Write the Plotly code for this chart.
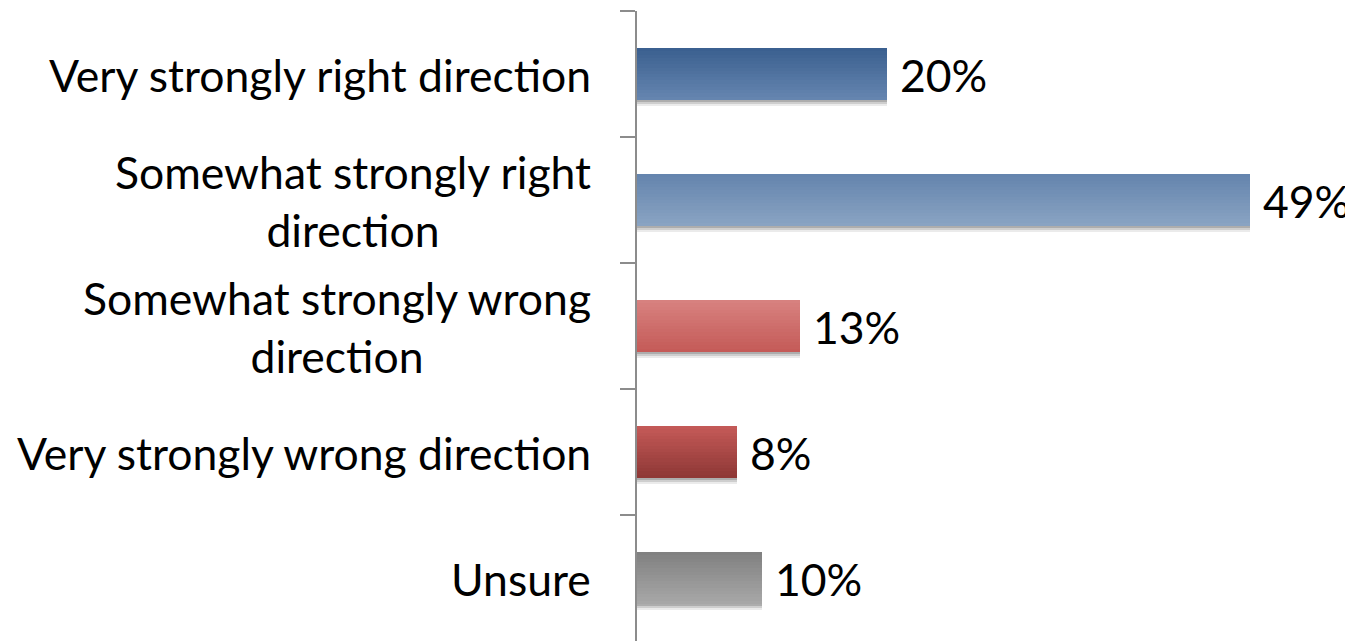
import plotly.graph_objects as go

categories = [
    "Very strongly right direction",
    "Somewhat strongly right<br>direction",
    "Somewhat strongly wrong<br>direction",
    "Very strongly wrong direction",
    "Unsure",
]
values = [20, 49, 13, 8, 10]
value_labels = ["20%", "49%", "13%", "8%", "10%"]

# gradient colours (top -> bottom) per bar
top_colors = [(0x3A, 0x5F, 0x8F), (0x64, 0x84, 0xAD), (0xD8, 0x82, 0x80), (0xC5, 0x5A, 0x58), (0x80, 0x80, 0x80)]
bot_colors = [(0x66, 0x86, 0xB0), (0x8A, 0xA4, 0xC3), (0xC4, 0x5A, 0x57), (0x8D, 0x37, 0x35), (0xA8, 0xA8, 0xA8)]

FONT = "Lato"
FS = 44.5
BAR_W = 0.41
N = 16

fig = go.Figure()

# shadow layers
for s, a in [(0.045, 0.08), (0.03, 0.12), (0.015, 0.16)]:
    fig.add_trace(go.Bar(
        y=categories, x=values, orientation="h",
        width=BAR_W, offset=-BAR_W / 2 + s,
        marker=dict(color=f"rgba(0,0,0,{a})", line=dict(width=0)),
        hoverinfo="skip", showlegend=False,
    ))

def mix(c1, c2, t):
    return "rgb(%d,%d,%d)" % tuple(round(c1[i] + (c2[i] - c1[i]) * t) for i in range(3))

for k in range(N):
    t = (k + 0.5) / N
    cols = [mix(top_colors[i], bot_colors[i], t) for i in range(len(values))]
    fig.add_trace(go.Bar(
        y=categories, x=values, orientation="h",
        width=BAR_W / N + 0.002, offset=-BAR_W / 2 + k * BAR_W / N,
        marker=dict(color=cols, line=dict(width=0)),
        hoverinfo="skip", showlegend=False,
    ))

annotations = []
for c, v, lab in zip(categories, values, value_labels):
    annotations.append(dict(
        x=v, y=c, xref="x", yref="y", text=lab, showarrow=False,
        xanchor="left", yanchor="middle", xshift=11,
        font=dict(family=FONT, size=FS, color="#000000"),
    ))
    annotations.append(dict(
        x=0, y=c, xref="paper", yref="y", text=c, showarrow=False,
        xanchor="right", yanchor="middle", xshift=-44, align="center",
        font=dict(family=FONT, size=FS, color="#000000"),
    ))

fig.update_layout(
    width=1345, height=633,
    margin=dict(l=629, r=0, t=3, b=0),
    paper_bgcolor="white", plot_bgcolor="white",
    barmode="overlay",
    bargap=0,
    showlegend=False,
    annotations=annotations,
    xaxis=dict(range=[0, 57.28], visible=False, fixedrange=True),
    yaxis=dict(
        autorange="reversed",
        showticklabels=False,
        showline=True, linecolor="#8C8C8C", linewidth=2,
        ticks="outside", ticklen=15, tickcolor="#8C8C8C", tickwidth=2,
        tickson="boundaries", showgrid=False, zeroline=False,
    ),
)

fig.write_html("out.html")
